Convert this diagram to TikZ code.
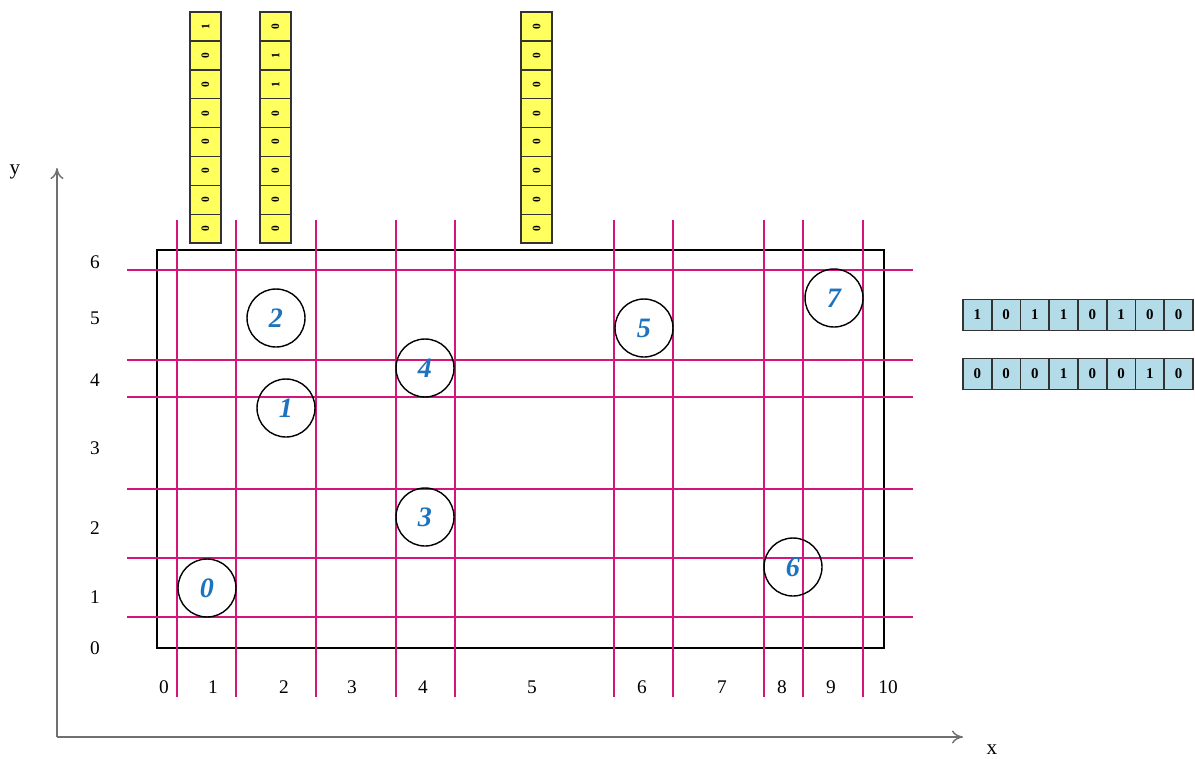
\documentclass[tikz,border=0pt]{standalone}
\usepackage{fontspec}
\setmainfont{Liberation Serif}
\usepackage{xcolor}
\usepackage{tikz}
\usetikzlibrary{arrows.meta}
\definecolor{gridc}{HTML}{D4157A}
\definecolor{cellyel}{HTML}{FFFF5E}
\definecolor{cellblue}{HTML}{B4DCE8}
\definecolor{labc}{HTML}{1E73BE}
\definecolor{axc}{HTML}{707070}
\tikzset{
  axis/.style={-{To[length=2.2mm,width=2.6mm]},axc,thick},
  gl/.style={gridc,line width=0.9pt},
  tick/.style={font=\fontsize{11}{13}\selectfont,inner sep=1pt},
  pt/.style={circle,draw=black,thick,minimum size=1.16cm,inner sep=0pt,text=labc,
    font=\fontsize{16}{18}\selectfont\bfseries\itshape},
  ycell/.style={draw=black!80,line width=0.9pt,fill=cellyel,minimum width=0.62cm,minimum height=0.578cm,
    inner sep=0pt,font=\fontsize{6.5}{7}\selectfont\bfseries},
  bcell/.style={draw=black!80,line width=0.9pt,fill=cellblue,minimum width=0.575cm,minimum height=0.62cm,
    inner sep=0pt,font=\fontsize{8.5}{9}\selectfont\bfseries}
}
\begin{document}
\begin{tikzpicture}[x=0.02cm,y=-0.02cm]
\useasboundingbox (0,0) rectangle (1195,758);
% axes
\coordinate (O) at (57,737);
\coordinate (ytop) at (57,168);
\coordinate (xend) at (963,737);
\draw[axis] (O) -- (ytop);
\draw[axis] (O) -- (xend);
\node[tick,font=\fontsize{12}{14}\selectfont] (ylab) at (15,172) {y};
\node[tick,font=\fontsize{12}{14}\selectfont] (xlab) at (992,750) {x};
% region
\draw[black,line width=1.6pt] (157,250) rectangle (884,648);
\foreach \gx in {177,236,316,396,455,614,673,764,803,863}
  \draw[gl] (\gx,220) -- (\gx,697);
\foreach \gy in {270,360,397,489,558,617}
  \draw[gl] (127,\gy) -- (913,\gy);
% tick labels
\foreach \t/\ty in {6/262,5/318,4/380,3/448,2/528,1/597,0/648}
  \node[tick] (yt\t) at (95,\ty) {\t};
\foreach \t/\tx in {0/164,1/213,2/284,3/352,4/423,5/532,6/642,7/722,8/782,9/831,10/888}
  \node[tick] (xt\t) at (\tx,687) {\t};
% points
\foreach \p/\px/\py in {0/207/588,1/286/408,2/276/318,3/425/517,4/425/368,5/644/328,6/793/567,7/834/298}
  \node[pt] (p\p) at (\px,\py) {\p};
% column bit vectors
\foreach \c/\cx/\bits in {a/205.5/{1,0,0,0,0,0,0,0},b/275.5/{0,1,1,0,0,0,0,0},c/536.5/{0,0,0,0,0,0,0,0}}
  \foreach \b [count=\i] in \bits
    \node[ycell] (\c\i) at (\cx,{12+28.9*(\i-0.5)}) {\rotatebox{90}{\b}};
% row bit vectors
\foreach \r/\ry/\bits in {u/315/{1,0,1,1,0,1,0,0},v/374/{0,0,0,1,0,0,1,0}}
  \foreach \b [count=\i] in \bits
    \node[bcell] (\r\i) at ({963+28.75*(\i-0.5)},\ry) {\b};
\end{tikzpicture}
\end{document}
